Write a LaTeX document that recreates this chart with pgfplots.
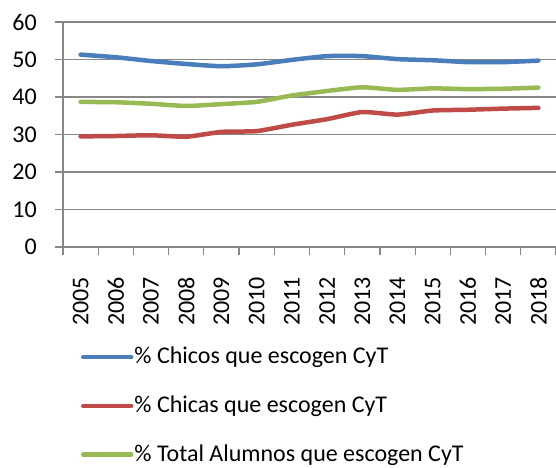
\documentclass[border=0pt]{standalone}
\usepackage{pgfplots}
\pgfplotsset{compat=1.18}
\usepackage{fontspec}
\setmainfont{Carlito}
\definecolor{cblue}{HTML}{4A7EBB}
\definecolor{cred}{HTML}{BE4B48}
\definecolor{cgreen}{HTML}{98B954}
\definecolor{cgrid}{HTML}{878787}
\begin{document}
\fontsize{24bp}{29bp}\selectfont
\begin{tikzpicture}
\path[use as bounding box] (-63bp,-221bp) rectangle (493bp,247bp);
\begin{axis}[
  at={(0,0)}, anchor=south west,
  scale only axis,
  width=493bp, height=225bp,
  xmin=0, xmax=14, ymin=0, ymax=60,
  ytick={0,10,...,60},
  xtick={0.5,1.5,...,13.5},
  xticklabels={2005,2006,2007,2008,2009,2010,2011,2012,2013,2014,2015,2016,2017,2018},
  minor xtick={0,1,...,14},
  axis x line*=bottom, axis y line*=left,
  axis line style={draw=cgrid, line width=1.2bp, -},
  ymajorgrids, grid style={draw=cgrid, line width=1.2bp},
  major x tick style={draw=none},
  minor x tick style={draw=cgrid, line width=1.2bp},
  ytick style={draw=cgrid, line width=1.2bp},
  tick align=outside,
  major tick length=8bp, minor tick length=8bp,
  /pgf/number format/assume math mode=true,
  tick label style={font=\fontsize{24bp}{29bp}\selectfont},
  xticklabel style={rotate=90, anchor=east, yshift=0bp, xshift=-14bp},
  yticklabel style={xshift=-10bp},
  clip=false,
  legend style={draw=none, fill=none, at={(0.03,-0.43)}, anchor=north west,
    legend cell align=left, row sep=26.5bp,
    font=\fontsize{24bp}{29bp}\selectfont,
    nodes={inner sep=1bp}},
  legend image code/.code={\draw[#1, line width=4.5bp, line cap=round] (0bp,0bp) -- (48bp,0bp);},
  every axis plot/.append style={line width=4.5bp, line cap=round, line join=round, smooth, tension=0.3},
]
\addplot[cblue] coordinates {(0.5,51.3)(1.5,50.6)(2.5,49.6)(3.5,48.8)(4.5,48.2)(5.5,48.7)(6.5,49.9)(7.5,50.9)(8.5,50.9)(9.5,50.1)(10.5,49.8)(11.5,49.3)(12.5,49.3)(13.5,49.7)};
\addlegendentry{\% Chicos que escogen CyT}
\addplot[cred] coordinates {(0.5,29.5)(1.5,29.6)(2.5,29.8)(3.5,29.4)(4.5,30.7)(5.5,30.9)(6.5,32.6)(7.5,34.1)(8.5,36.0)(9.5,35.3)(10.5,36.4)(11.5,36.6)(12.5,36.9)(13.5,37.1)};
\addlegendentry{\% Chicas que escogen CyT}
\addplot[cgreen] coordinates {(0.5,38.7)(1.5,38.6)(2.5,38.2)(3.5,37.6)(4.5,38.1)(5.5,38.7)(6.5,40.4)(7.5,41.6)(8.5,42.6)(9.5,41.9)(10.5,42.3)(11.5,42.1)(12.5,42.2)(13.5,42.5)};
\addlegendentry{\% Total Alumnos que escogen CyT}
\end{axis}
\end{tikzpicture}
\end{document}
